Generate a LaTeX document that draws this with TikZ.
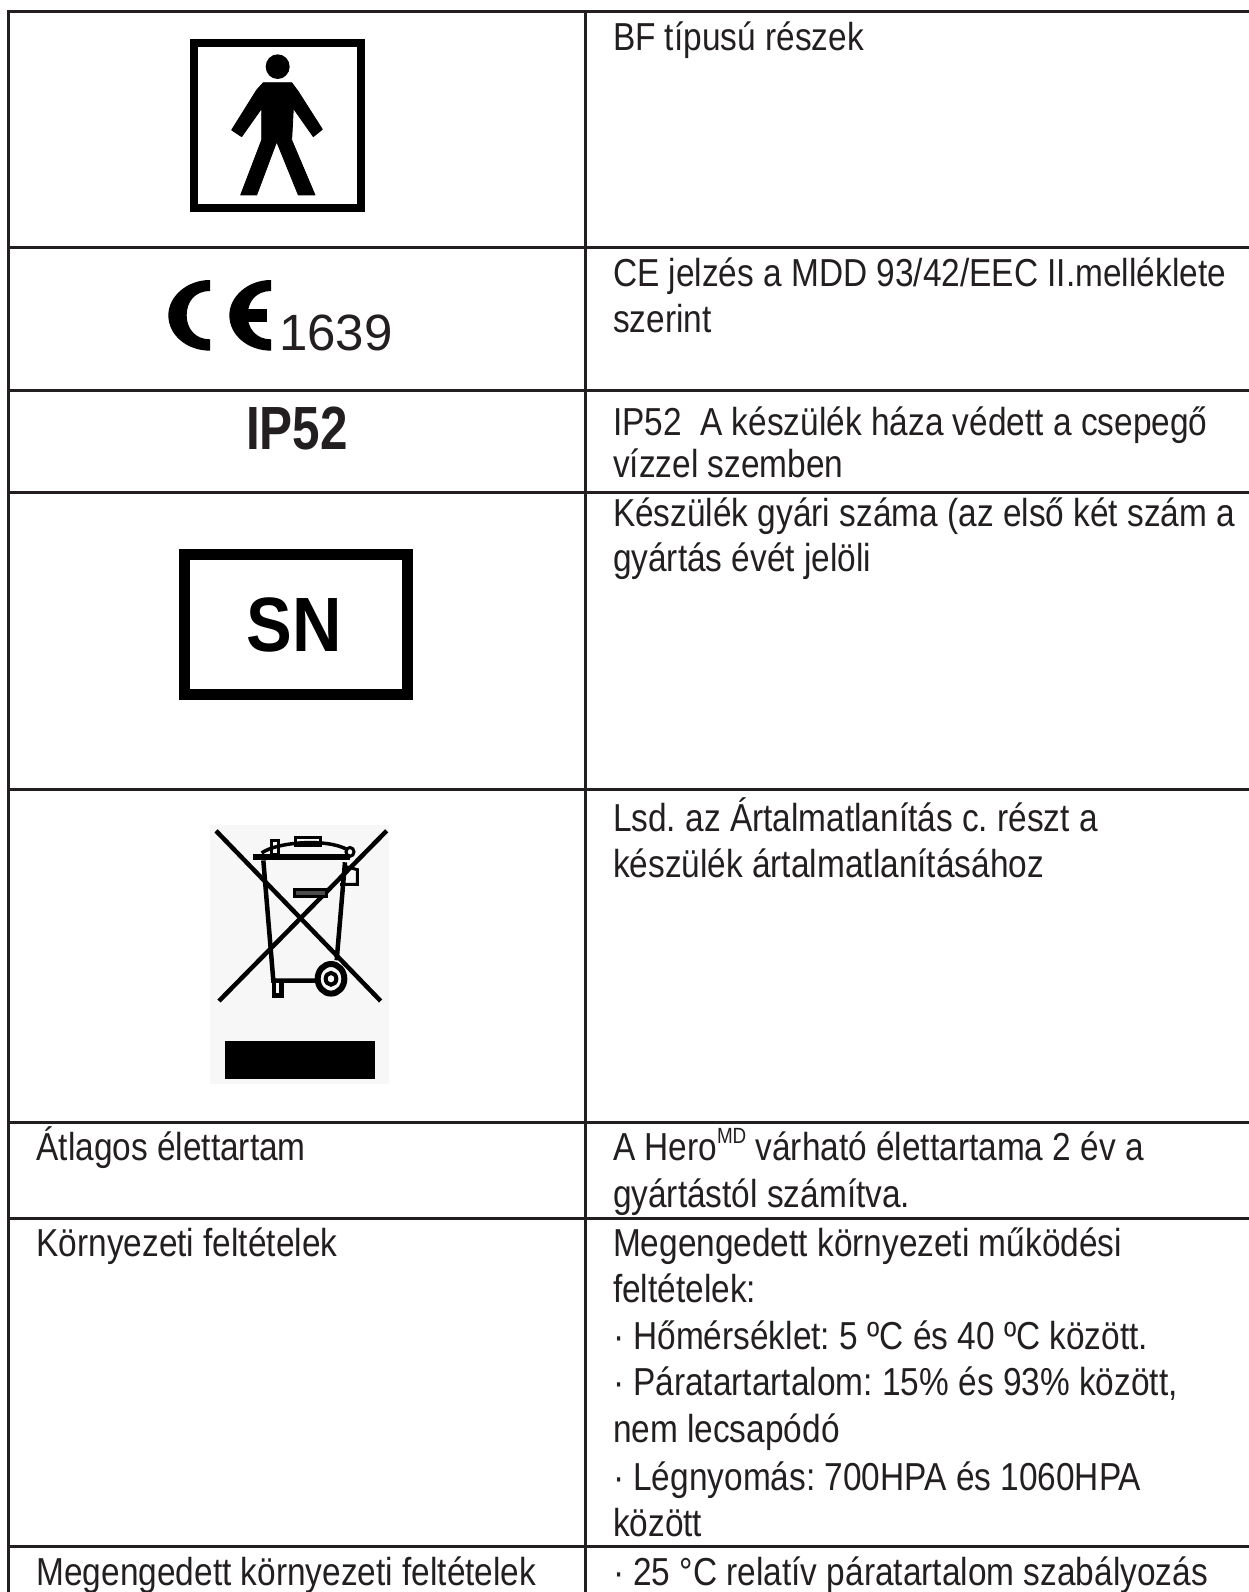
\documentclass[tikz,border=0pt]{standalone}
\usepackage{fontspec}
\setmainfont{Liberation Sans}
\newfontfamily\nar[FakeStretch=.857]{Liberation Sans}
\newfontfamily\narb[FakeStretch=.81]{Liberation Sans Bold}
\newfontfamily\snb[FakeStretch=.89]{Liberation Sans Bold}
\definecolor{ink}{HTML}{231F20}
\tikzset{
  lbl/.style={anchor=base west,inner sep=0pt,outer sep=0pt,text=ink,font=\nar\frenchspacing\fontsize{39}{46}\selectfont},
  rule/.style={draw=ink,line width=3pt},
}
\begin{document}
\begin{tikzpicture}[x=1pt,y=-1pt]
\useasboundingbox (0,0) rectangle (1249,1592);
\fill[white] (0,0) rectangle (1249,1592);
% table rules
\foreach \yy in {11.5,247.5,390,492.5,789.5,1122,1218,1546}
  \draw[rule] (7,\yy) -- (1249,\yy);
\draw[rule] (8.5,10) -- (8.5,1592);
\draw[rule] (585.5,10) -- (585.5,1592);
% BF symbol
\draw[black,line width=8pt] (194,43) rectangle (360.5,208);
\begin{scope}[shift={(150,0)},x=.33333pt,y=-.33333pt]
  \fill[black] (383,200) circle[x radius=36,y radius=37];
  \filldraw[black,line width=.8pt,line join=round] (340,248) -- (425,248) -- (445,275) -- (517,388) -- (490,410) -- (430,325)
    -- (425,420) -- (495,585) -- (445,585) -- (380,425) -- (320,585) -- (272,585)
    -- (335,420) -- (335,325) -- (275,410) -- (245,390) -- (320,270) -- cycle;
  % CE
  \foreach \dx in {0,183}
    \fill[black,shift={(\dx*.33333pt,0)}] (180,840) .. controls (110,840) and (55,890) .. (55,946)
      .. controls (55,1005) and (110,1052) .. (180,1052) -- (180,1018)
      .. controls (135,1018) and (110,985) .. (110,946)
      .. controls (110,905) and (135,873) .. (180,873) -- cycle;
  \fill[black] (280,927) rectangle (350,965);
\end{scope}
\node[anchor=base west,inner sep=0pt,text=ink,font=\fontsize{51}{51}\selectfont] (cenum) at (279,350) {1639};
\node[anchor=base west,inner sep=0pt,text=ink,font=\narb\fontsize{61}{61}\selectfont] (ip) at (246,449) {IP52};
% SN symbol
\draw[black,line width=11pt] (184.5,554) rectangle (407,694);
\node[anchor=base,inner sep=0pt,text=black,font=\snb\fontsize{77}{77}\selectfont] (sn) at (294,651) {SN};
% WEEE symbol
\fill[black!3] (210,825) rectangle (389,1084);
\fill[black] (225,1041) rectangle (375,1079);
\begin{scope}[shift={(150,520)},x=.33333pt,y=-.37pt,draw=black,line width=4.5pt]
  \draw (198,840) -- (692,1300);
  \draw (710,840) -- (207,1300);
  \draw[line width=6pt] (310,912) -- (600,912);
  \draw[line width=3.5pt] (335,900) .. controls (380,870) and (530,860) .. (590,890);
  \draw[line width=3pt] (435,858) rectangle (510,880);
  \draw[line width=3pt] (365,865) rectangle (385,905);
  \draw[line width=3pt] (600,897) circle[x radius=12,y radius=12];
  \draw (340,920) -- (370,1245) -- (510,1245);
  \draw (585,925) -- (560,1190);
  \draw[line width=3pt] (580,935) -- (622,945) -- (622,985) -- (570,985);
  \draw[line width=3pt,fill=black!70] (432,998) rectangle (530,1018);
  \draw[line width=6pt] (543,1240) circle[x radius=40,y radius=40];
  \draw[line width=4pt] (543,1240) circle[x radius=16,y radius=16];
  \draw (372,1250) -- (372,1285) -- (395,1285) -- (395,1250);
\end{scope}
% right column
\node[lbl] (r1) at (613,51) {BF típusú részek};
\node[lbl] (r2a) at (613,286) {CE jelzés a MDD 93/42/EEC II.melléklete};
\node[lbl] (r2b) at (613,332) {szerint};
\node[lbl] (r3a) at (613,435) {IP52\ \ A készülék háza védett a csepegő};
\node[lbl] (r3b) at (613,477) {vízzel szemben};
\node[lbl] (r4a) at (613,526) {Készülék gyári száma (az első két szám a};
\node[lbl] (r4b) at (613,571) {gyártás évét jelöli};
\node[lbl] (r5a) at (613,831) {Lsd. az Ártalmatlanítás c. részt a};
\node[lbl] (r5b) at (613,877) {készülék ártalmatlanításához};
\node[lbl] (r6a) at (613,1160) {A Hero\raisebox{.42em}{\fontsize{22}{22}\selectfont MD} várható élettartama 2 év a};
\node[lbl] (r6b) at (613,1207) {gyártástól számítva.};
\node[lbl] (r7a) at (613,1256) {Megengedett környezeti működési};
\node[lbl] (r7b) at (613,1302) {feltételek:};
\node[lbl] (r7c) at (613,1349) {· Hőmérséklet: 5 ºC és 40 ºC között.};
\node[lbl] (r7d) at (613,1395) {· Páratartartalom: 15\% és 93\% között,};
\node[lbl] (r7e) at (613,1442) {nem lecsapódó};
\node[lbl] (r7f) at (613,1490) {· Légnyomás: 700HPA és 1060HPA};
\node[lbl] (r7g) at (613,1536) {között};
\node[lbl] (r8) at (613,1585) {· 25 °C relatív páratartalom szabályozás};
% left column
\node[lbl] (l6) at (36.5,1160) {Átlagos élettartam};
\node[lbl] (l7) at (36.5,1256) {Környezeti feltételek};
\node[lbl] (l8) at (36.5,1585) {Megengedett környezeti feltételek};
\end{tikzpicture}
\end{document}
